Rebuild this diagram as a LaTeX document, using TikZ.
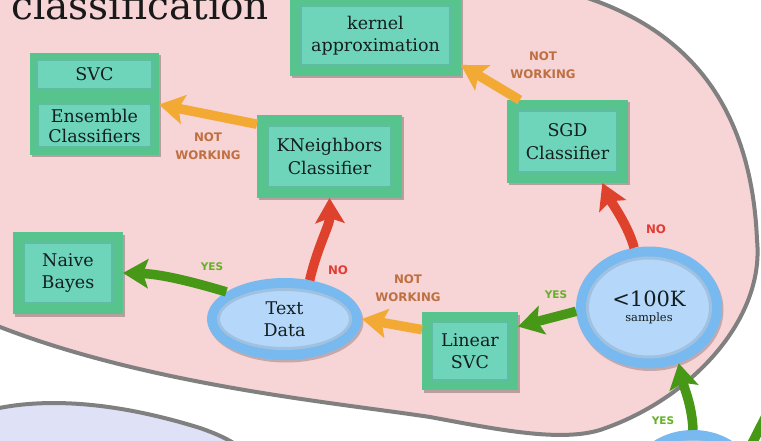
\documentclass[tikz,border=0pt]{standalone}
\usepackage{fontspec}
\usetikzlibrary{arrows.meta,shadows,calc,shapes.geometric}
\newfontfamily\boxfont{DejaVu Serif}
\newfontfamily\lblfont{DejaVu Sans}
\definecolor{pinkbg}{RGB}{247,212,213}
\definecolor{bordergray}{RGB}{128,128,128}
\definecolor{lavender}{RGB}{223,225,247}
\definecolor{boxgreen}{RGB}{87,196,142}
\definecolor{boxteal}{RGB}{110,213,187}
\definecolor{ringblue}{RGB}{120,186,240}
\definecolor{ellfill}{RGB}{180,215,250}
\definecolor{arrgreen}{RGB}{72,152,24}
\definecolor{arrred}{RGB}{222,66,44}
\definecolor{arrorange}{RGB}{242,170,52}
\definecolor{lblbrown}{RGB}{190,112,66}
\definecolor{lblgreen}{RGB}{98,178,38}
\definecolor{lblred}{RGB}{226,60,52}
\definecolor{textdark}{RGB}{20,30,30}
\def\myinset{10pt}
\tikzset{
  boxinset/.code={\def\myinset{#1}},
  mlbox/.style={rectangle, fill=boxgreen, inner sep=0pt, outer sep=0pt,
    align=center, text=textdark, font=\boxfont\fontsize{17.5}{22.5}\selectfont,
    drop shadow={shadow xshift=1.5pt, shadow yshift=-2.5pt, opacity=.25, fill=black},
    path picture={
      \fill[boxteal] ([shift={(\myinset,-\myinset)}]path picture bounding box.north west)
        rectangle ([shift={(-\myinset,\myinset)}]path picture bounding box.south east);
      \draw[black, opacity=.12, line width=2.5pt]
        ([shift={(\myinset+1pt,-\myinset-1pt)}]path picture bounding box.north west)
        rectangle ([shift={(-\myinset-1pt,\myinset+1pt)}]path picture bounding box.south east);
    }},
  mlell/.style={ellipse, fill=ringblue, inner sep=0pt, outer sep=0pt,
    align=center, text=textdark,
    drop shadow={shadow xshift=1.5pt, shadow yshift=-2.5pt, opacity=.2, fill=black},
    path picture={
      \fill[ellfill] let \p1=(path picture bounding box.south west),
        \p2=(path picture bounding box.north east) in
        (path picture bounding box.center) ellipse [x radius={(\x2-\x1)/2-10pt}, y radius={(\y2-\y1)/2-10pt}];
      \draw[black, opacity=.1, line width=3pt] let \p1=(path picture bounding box.south west),
        \p2=(path picture bounding box.north east) in
        (path picture bounding box.center) ellipse [x radius={(\x2-\x1)/2-11.5pt}, y radius={(\y2-\y1)/2-11.5pt}];
    }},
  arr/.style={line width=9.5pt, -{Stealth[length=25pt, width=29pt, inset=5pt]}},
  lbl/.style={font=\lblfont\bfseries\fontsize{11.8}{17.5}\selectfont, align=center, inner sep=0pt},
  lblsm/.style={font=\lblfont\bfseries\fontsize{10.5}{12}\selectfont, align=center, inner sep=0pt},
  region/.style={draw=bordergray, line width=4pt},
}
\begin{document}
\begin{tikzpicture}[x=1pt,y=-1pt]
\useasboundingbox (0,0) rectangle (761,441);
\begin{scope}
\clip (0,0) rectangle (761,441);
\fill[white] (0,0) rectangle (761,441);
% regions
\path[region, fill=pinkbg] (-10,-10) -- (560,-10)
  .. controls (700,25) and (752,120) .. (757,240)
  .. controls (765,320) and (690,400) .. (600,430)
  .. controls (560,442) and (500,430) .. (430,417)
  .. controls (330,402) and (150,385) .. (0,327)
  -- (-10,322) -- cycle;
\path[region, fill=lavender] (-10,410) .. controls (40,398) and (110,400) .. (200,428)
  .. controls (220,435) and (235,442) .. (250,455) -- (-10,455) -- cycle;
% title
\node[anchor=base west, inner sep=0pt, text=black!90, font=\boxfont\fontsize{39}{40}\selectfont] (title) at (11,20) {classification};
% boxes
\node[mlbox, minimum width=171pt, minimum height=81pt] (ker) at (375.5,35.5) {kernel\\approximation};
\node[mlbox, boxinset=6pt, minimum width=129pt, minimum height=43pt] (svc) at (94.5,74.5) {SVC};
\node[mlbox, boxinset=7pt, minimum width=129pt, minimum height=59pt, font=\boxfont\fontsize{17.5}{20}\selectfont] (ens) at (94.5,125.5) {Ensemble\\Classifiers};
\node[mlbox, minimum width=145pt, minimum height=83pt] (kn) at (329.5,156.5) {KNeighbors\\Classifier};
\node[mlbox, minimum width=121pt, minimum height=83pt] (sgd) at (567.5,141.5) {SGD\\Classifier};
\node[mlbox, minimum width=110pt, minimum height=82pt] (nb) at (68,273) {Naive\\Bayes};
\node[mlbox, boxinset=9pt, minimum width=96pt, minimum height=78pt] (ls) at (470,351) {Linear\\SVC};
% ellipses
\node[mlell, minimum width=155pt, minimum height=82pt, font=\boxfont\fontsize{17.5}{22.5}\selectfont] (td) at (284.5,319) {Text\\Data};
\node[mlell, minimum width=146pt, minimum height=122pt] (k) at (649,307.5)
  {{\boxfont\fontsize{21}{22}\selectfont <100K}\\[3pt]{\boxfont\fontsize{11.5}{13}\selectfont samples}};
\node[mlell, minimum width=130pt, minimum height=110pt] (be) at (693,485) {};
\coordinate (out) at (766,416);
% arrows
\draw[arr, arrorange] (kn.156) -- (ens.18);
\draw[arr, arrorange] (sgd.139) -- (ker.-19);
\draw[arr, arrred] (td.57) .. controls (318,245) and (330,225) .. (kn.south);
\draw[arr, arrred] (k.104) .. controls (628,225) and (610,200) .. (sgd.-50);
\draw[arr, arrgreen] (td.155) .. controls (190,281) and (160,274) .. (nb.east);
\draw[arr, arrgreen] (k.183) -- (ls.27);
\draw[arr, arrorange] (ls.156) -- (td.east);
\draw[arr, arrgreen] (be.north) .. controls (692,405) and (684,388) .. (k.298);
\draw[line width=9.5pt, arrgreen] (be.30) -- (out);
% labels
\node[lbl, text=lblbrown] (l1) at (208,146) {NOT\\WORKING};
\node[lbl, text=lblbrown] (l2) at (543,65) {NOT\\WORKING};
\node[lbl, text=lblbrown] (l3) at (408,288) {NOT\\WORKING};
\node[lbl, text=lblred] (l4) at (338,270) {NO};
\node[lbl, text=lblred] (l5) at (656,229) {NO};
\node[lblsm, text=lblgreen] (l6) at (212,267) {YES};
\node[lblsm, text=lblgreen] (l7) at (556,295) {YES};
\node[lblsm, text=lblgreen] (l8) at (663,421) {YES};
\end{scope}
\end{tikzpicture}
\end{document}
